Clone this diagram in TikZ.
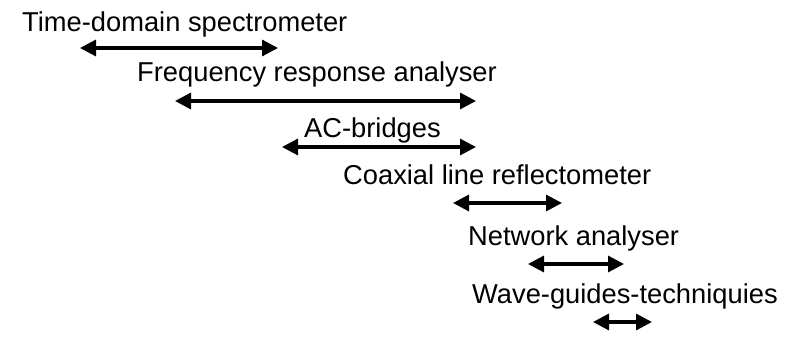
\documentclass[tikz,border=0pt]{standalone}
\usepackage{fontspec}
\setmainfont{Liberation Sans}
\usetikzlibrary{arrows.meta}
\begin{document}
\begin{tikzpicture}[x=1pt,y=-1pt,
  lbl/.style={anchor=base west,inner sep=0pt,font=\fontsize{27.3}{31}\selectfont},
  rng/.style={line width=3.2pt,{Triangle[length=16pt,width=16pt]}-{Triangle[length=16pt,width=16pt]}}]
\useasboundingbox[fill=white] (0,0) rectangle (793,342);
\node[lbl] (t1) at (22,32) {Time-domain spectrometer};
\node[lbl] (t2) at (137,82) {Frequency response analyser};
\node[lbl] (t3) at (304,138) {AC-bridges};
\node[lbl] (t4) at (343,185) {Coaxial line reflectometer};
\node[lbl] (t5) at (468,245) {Network analyser};
\node[lbl] (t6) at (472,303) {Wave-guides-techniquies};
\coordinate (a1) at (80,48);  \coordinate (b1) at (278,48);
\coordinate (a2) at (175,101); \coordinate (b2) at (476,101);
\coordinate (a3) at (282,147); \coordinate (b3) at (476,147);
\coordinate (a4) at (453,203); \coordinate (b4) at (562,203);
\coordinate (a5) at (528,264); \coordinate (b5) at (624,264);
\coordinate (a6) at (593,322); \coordinate (b6) at (652,322);
\draw[rng] (a1) -- (b1);
\draw[rng] (a2) -- (b2);
\draw[rng] (a3) -- (b3);
\draw[rng] (a4) -- (b4);
\draw[rng] (a5) -- (b5);
\draw[rng] (a6) -- (b6);
\end{tikzpicture}
\end{document}
